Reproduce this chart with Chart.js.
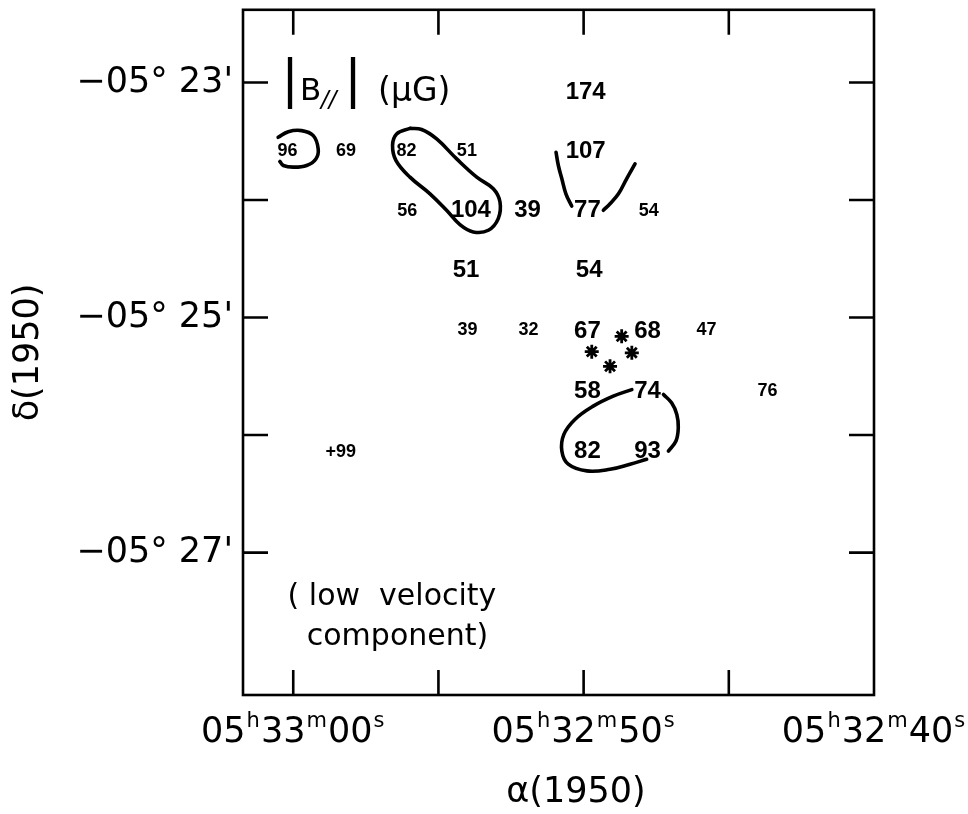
<!DOCTYPE html>
<html>
<head>
<meta charset="utf-8">
<script src="https://cdn.jsdelivr.net/npm/chart.js@4"></script>
<style>
  html, body { margin: 0; padding: 0; background: #fff; }
  #wrap { width: 968px; height: 814px; }
</style>
</head>
<body>
<div id="wrap"><canvas id="c" width="968" height="814"></canvas></div>
<script>
// Coordinates: RA in seconds past 05h32m (1950), Dec in arcminutes south of -05°00' (1950)

// |B_parallel| values, large lettering
const bigLabels = ['174', '107', '104', '39', '77', '51', '54', '67', '68', '58', '74', '82', '93'];
const bigRA     = [49.93, 49.93, 53.88, 51.93, 49.87, 54.05, 49.81, 49.87, 47.80, 49.87, 47.80, 49.87, 47.80];
const bigDec    = [23.064, 23.572, 24.072, 24.072, 24.072, 24.585, 24.585, 25.097, 25.097, 25.610, 25.610, 26.119, 26.119];

// |B_parallel| values, small lettering
const smallLabels = ['96', '69', '82', '51', '56', '54', '39', '32', '47', '76', '+99'];
const smallRA     = [60.20, 58.18, 56.10, 54.02, 56.07, 47.76, 54.00, 51.90, 45.77, 43.67, 58.36];
const smallDec    = [23.572, 23.572, 23.572, 23.572, 24.080, 24.080, 25.097, 25.097, 25.097, 25.610, 26.13];

// Stars (asterisks)
const starRA  = [48.69, 49.72, 48.34, 49.09];
const starDec = [25.16, 25.29, 25.30, 25.415];

// Contours
const loopWestRA  = [60.52, 60.17, 59.71, 59.31, 59.14, 59.22, 59.54, 60.00, 60.34, 60.46];
const loopWestDec = [23.466, 23.418, 23.409, 23.452, 23.565, 23.65, 23.706, 23.72, 23.706, 23.672];

const loopMidRA  = [55.98, 56.44, 56.58, 56.46, 55.98, 55.29, 54.72, 54.26, 53.80, 53.28, 52.94, 52.88, 53.11, 53.68, 54.37, 55.06, 55.58, 55.98];
const loopMidDec = [23.39, 23.438, 23.536, 23.664, 23.805, 23.947, 24.087, 24.209, 24.271, 24.257, 24.158, 24.017, 23.904, 23.805, 23.65, 23.48, 23.40, 23.39];

const arcLeftRA  = [50.95, 50.87, 50.75, 50.61, 50.41];
const arcLeftDec = [23.593, 23.706, 23.819, 23.947, 24.051];

const arcRightRA  = [48.23, 48.52, 48.80, 49.09, 49.32];
const arcRightDec = [23.692, 23.819, 23.947, 24.031, 24.087];

const loopSouthRA  = [48.34, 48.98, 49.67, 50.30, 50.68, 50.75, 50.53, 49.89, 49.09, 48.40, 47.83];
const loopSouthDec = [25.613, 25.669, 25.754, 25.867, 25.994, 26.136, 26.248, 26.305, 26.291, 26.248, 26.206];

const arcSouthRA  = [47.25, 46.97, 46.79, 46.74, 46.82, 47.08];
const arcSouthDec = [25.655, 25.726, 25.825, 25.938, 26.051, 26.136];

// Axis ticks and labels (RA labels split into value / unit pieces)
const raTickValues  = [60, 55, 50, 45];
const raLabelValues = [60, 50, 40];
const raLabelParts  = [
  ['05', 'h', '33', 'm', '00', 's'],
  ['05', 'h', '32', 'm', '50', 's'],
  ['05', 'h', '32', 'm', '40', 's']
];
const decTickValues = [23, 24, 25, 26, 27];
const decTickLabels = { 23: "−05° 23'", 25: "−05° 25'", 27: "−05° 27'" };

const pts = (xs, ys) => xs.map((x, i) => ({ x: x, y: ys[i] }));

const contour = (xs, ys) => ({
  data: pts(xs, ys),
  showLine: true,
  pointRadius: 0,
  borderColor: '#000',
  borderWidth: 3.6,
  tension: 0.4,
  fill: false,
  borderCapStyle: 'round',
  borderJoinStyle: 'round'
});

const FONT = 'DejaVu Sans';

// Frame and inward tick marks on all four sides
const framePlugin = {
  id: 'frame',
  afterDatasetsDraw(chart) {
    const { ctx, chartArea: a, scales: { x, y } } = chart;
    const len = 25;
    ctx.save();
    ctx.strokeStyle = '#000';
    ctx.lineWidth = 2.6;
    ctx.lineCap = 'butt';
    ctx.strokeRect(a.left, a.top, a.right - a.left, a.bottom - a.top);
    ctx.beginPath();
    raTickValues.forEach(v => {
      const px = x.getPixelForValue(v);
      ctx.moveTo(px, a.top); ctx.lineTo(px, a.top + len);
      ctx.moveTo(px, a.bottom); ctx.lineTo(px, a.bottom - len);
    });
    decTickValues.forEach(v => {
      const py = y.getPixelForValue(v);
      ctx.moveTo(a.left, py); ctx.lineTo(a.left + len, py);
      ctx.moveTo(a.right, py); ctx.lineTo(a.right - len, py);
    });
    ctx.stroke();
    ctx.restore();
  }
};

// RA tick labels with raised h / m / s units
const raLabelPlugin = {
  id: 'raLabels',
  afterDraw(chart) {
    const { ctx, chartArea: a, scales: { x } } = chart;
    const bigFont = '35px "' + FONT + '"';
    const supFont = '21px "' + FONT + '"';
    const base = a.bottom + 47;
    const supBase = a.bottom + 32;
    ctx.save();
    ctx.fillStyle = '#000';
    ctx.textAlign = 'left';
    ctx.textBaseline = 'alphabetic';
    raLabelValues.forEach((v, i) => {
      const parts = raLabelParts[i];
      const widths = parts.map((p, k) => {
        ctx.font = k % 2 ? supFont : bigFont;
        return ctx.measureText(p).width + (k % 2 ? 2 : 0);
      });
      const total = widths.reduce((s, w) => s + w, 0);
      let cx = x.getPixelForValue(v) - total / 2;
      parts.forEach((p, k) => {
        ctx.font = k % 2 ? supFont : bigFont;
        ctx.fillText(p, cx + (k % 2 ? 1 : 0), k % 2 ? supBase : base);
        cx += widths[k];
      });
    });
    ctx.restore();
  }
};

// Value labels drawn at each point of the label datasets
const valuePlugin = {
  id: 'values',
  afterDatasetsDraw(chart) {
    const ctx = chart.ctx;
    chart.data.datasets.forEach((ds, i) => {
      if (!ds.valueLabels) return;
      const meta = chart.getDatasetMeta(i);
      ctx.save();
      ctx.fillStyle = '#000';
      ctx.font = 'bold ' + ds.labelSize + 'px "Liberation Sans", Arial, sans-serif';
      ctx.textAlign = 'center';
      ctx.textBaseline = 'alphabetic';
      meta.data.forEach((el, j) => {
        ctx.fillText(ds.valueLabels[j], el.x, el.y + ds.labelSize * 0.358);
      });
      ctx.restore();
    });
  }
};

// Panel captions
const captionPlugin = {
  id: 'captions',
  afterDatasetsDraw(chart) {
    const { ctx, scales: { x, y } } = chart;
    ctx.save();
    ctx.fillStyle = '#000';
    ctx.textBaseline = 'alphabetic';

    // |B//| (μG)
    const x0 = x.getPixelForValue(60.11);
    const base = y.getPixelForValue(23) + 17;
    ctx.textAlign = 'center';
    ctx.font = '52px "' + FONT + '"';
    ctx.fillText('|', x0, base - 4);
    ctx.textAlign = 'left';
    ctx.font = '31px "' + FONT + '"';
    ctx.fillText('B', x0 + 10, base);
    ctx.font = 'italic 23px "' + FONT + '"';
    ctx.fillText('//', x0 + 31, base + 7);
    ctx.textAlign = 'center';
    ctx.font = '52px "' + FONT + '"';
    ctx.fillText('|', x0 + 63, base - 4);
    ctx.textAlign = 'left';
    ctx.font = '33px "' + FONT + '"';
    ctx.fillText('(μG)', x0 + 88, base + 1);

    // (low velocity component)
    ctx.textAlign = 'center';
    ctx.textBaseline = 'middle';
    ctx.font = '30px "' + FONT + '"';
    ctx.fillText('( low  velocity', x.getPixelForValue(56.6), y.getPixelForValue(27.38));
    ctx.fillText('component)', x.getPixelForValue(56.41), y.getPixelForValue(27.72));
    ctx.restore();
  }
};

Chart.defaults.color = '#000';
Chart.defaults.font.family = FONT;

new Chart(document.getElementById('c'), {
  type: 'scatter',
  data: {
    datasets: [
      contour(loopWestRA, loopWestDec),
      contour(loopMidRA, loopMidDec),
      contour(arcLeftRA, arcLeftDec),
      contour(arcRightRA, arcRightDec),
      contour(loopSouthRA, loopSouthDec),
      contour(arcSouthRA, arcSouthDec),
      {
        data: pts(starRA, starDec),
        pointStyle: 'star',
        pointRadius: 7,
        borderColor: '#000',
        backgroundColor: '#000',
        borderWidth: 2.8
      },
      {
        data: pts(bigRA, bigDec),
        pointRadius: 0,
        valueLabels: bigLabels,
        labelSize: 24
      },
      {
        data: pts(smallRA, smallDec),
        pointRadius: 0,
        valueLabels: smallLabels,
        labelSize: 18
      }
    ]
  },
  options: {
    responsive: false,
    animation: false,
    devicePixelRatio: 1,
    layout: { padding: { left: 0, right: 94, top: 7, bottom: 0 } },
    plugins: { legend: { display: false }, tooltip: { enabled: false } },
    scales: {
      x: {
        type: 'linear',
        reverse: true,
        min: 40,
        max: 61.73,
        grid: { display: false, drawTicks: false },
        border: { display: false },
        ticks: { display: false, stepSize: 5 },
        title: {
          display: true,
          text: '\u2003α(1950)',
          font: { family: FONT, size: 35 },
          padding: { top: 0, bottom: 0 }
        },
        afterFit(scale) {
          scale.height = 119;
          scale.paddingLeft = 0;
          scale.paddingRight = 0;
        }
      },
      y: {
        type: 'linear',
        reverse: true,
        min: 22.381,
        max: 28.212,
        grid: { display: false, drawTicks: false },
        border: { display: false },
        ticks: {
          stepSize: 1,
          includeBounds: false,
          autoSkip: false,
          padding: 10,
          font: { family: FONT, size: 35 },
          callback: v => decTickLabels[v] || ''
        },
        title: {
          display: true,
          text: 'δ(1950)',
          font: { family: FONT, size: 35 },
          padding: { top: 8, bottom: 0 }
        },
        afterFit(scale) {
          scale.width = 243;
          scale.paddingTop = 0;
          scale.paddingBottom = 0;
        }
      }
    }
  },
  plugins: [framePlugin, valuePlugin, captionPlugin, raLabelPlugin]
});
</script>
</body>
</html>
